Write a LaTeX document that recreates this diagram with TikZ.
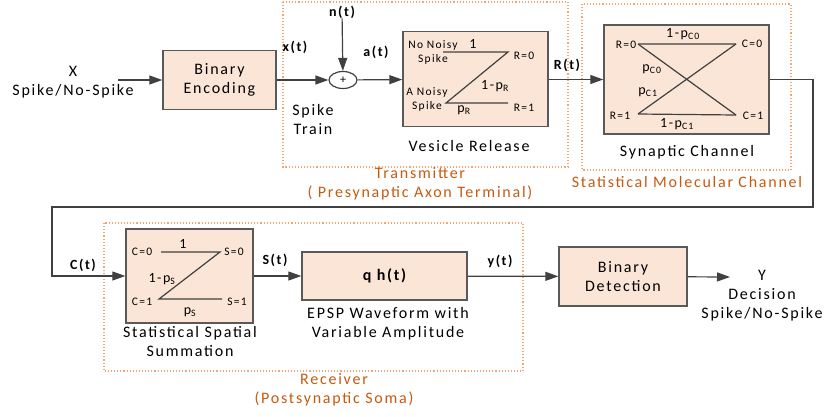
\documentclass[tikz,border=0pt]{standalone}
\usepackage{fontspec}
\setmainfont{Carlito}[LetterSpace=11]
\usetikzlibrary{arrows.meta}
\usetikzlibrary{calc}
\usetikzlibrary{shapes.geometric}
\usetikzlibrary{positioning}
\definecolor{boxfill}{HTML}{FBE5D6}
\definecolor{boxline}{HTML}{595959}
\definecolor{wirecol}{HTML}{404040}
\definecolor{dotline}{HTML}{F4A46E}
\definecolor{grouptext}{HTML}{C55A11}

\begin{document}
\begin{tikzpicture}[x=1pt,y=-1pt,>={Triangle[length=13pt,width=9pt]},font=\fontsize{16}{19}\selectfont]
		\tikzstyle{block}=[rectangle,draw=boxline,fill=boxfill,line width=1.4pt,align=center];
		\tikzstyle{wire}=[draw=wirecol,line width=1.2pt];
		\tikzstyle{group}=[draw=dotline,dotted,line width=1.1pt];
		\tikzstyle{grouplabel}=[text=grouptext,align=center,inner sep=0pt];
		\tikzstyle{sig}=[font=\fontsize{14}{16}\selectfont\bfseries,inner sep=0pt];
		\tikzstyle{tiny}=[font=\fontsize{11.5}{14}\selectfont,align=center,inner sep=0pt];
		\tikzstyle{prob}=[font=\fontsize{14}{16}\selectfont,inner sep=0pt];
		\tikzstyle{plain}=[align=center,inner sep=0pt];
		\useasboundingbox (0,0) rectangle (825,416);

		% dotted groups
		\draw[group](283,2)rectangle(568,167);
		\draw[group](582,4)rectangle(791,170);
		\draw[group](104,223)rectangle(523,371);
		\node[grouplabel](gtx)at(420,184){Transmitter\\( Presynaptic Axon Terminal)};
		\node[grouplabel](gch)at(687,182){Statistical Molecular Channel};
		\node[grouplabel](grx)at(334,390){Receiver\\(Postsynaptic Soma)};

		% blocks
		\node[block,minimum width=113pt,minimum height=59pt](enc)at(219.5,80){Binary\\Encoding};
		\node[draw=wirecol,line width=1.2pt,ellipse,minimum width=28pt,minimum height=17pt,inner sep=0pt,font=\fontsize{12}{12}\selectfont](sum)at(343,80){+};
		\node[block,minimum width=145pt,minimum height=95pt](ves)at(475.5,79){};
		\node[block,minimum width=165pt,minimum height=109pt](syn)at(686.5,79.5){};
		\node[block,minimum width=127pt,minimum height=94pt](sss)at(189.5,276){};
		\node[block,minimum width=165pt,minimum height=48pt,font=\fontsize{16}{19}\selectfont\bfseries](epsp)at(384.5,276){q h(t)};
		\node[block,minimum width=128pt,minimum height=59pt](det)at(623,276.5){Binary\\Detection};

		% texts round the blocks
		\node[plain](xin)at(73,82){X\\Spike/No-Spike};
		\node[plain](train)at(313,119){Spike\\Train};
		\node[plain](vesl)at(469,146){Vesicle Release};
		\node[plain](synl)at(687,152){Synaptic Channel};
		\node[plain](sssl)at(190,341){Statistical Spatial\\Summation};
		\node[plain](epspl)at(388,324){EPSP Waveform with\\Variable Amplitude};
		\node[plain](yout)at(762,296){Y\\Decision\\Spike/No-Spike};

		% signal names
		\node[sig](xt)at(295,47){x(t)};
		\node[sig](nt)at(342,12){n(t)};
		\node[sig](at)at(376,52){a(t)};
		\node[sig](rt)at(567,65){R(t)};
		\node[sig](ct)at(83,265){C(t)};
		\node[sig](st)at(275,260){S(t)};
		\node[sig](yt)at(500,261){y(t)};

		% connectors
		\coordinate(in)at(118,80);
		\coordinate(out)at(730,277);
		\coordinate(k1)at(813,207);
		\coordinate(k2)at(52,207);
		\draw[wire,->](in)--(enc);
		\draw[wire,->](enc)--(sum);
		\draw[wire,->](nt)--(sum);
		\draw[wire,->](sum)--(ves);
		\draw[wire,->](ves.east|-syn.west)--(syn.west);
		\draw[wire,->](syn.east)-|(k1)--(k2)|-(sss.west);
		\draw[wire,->](sss)--(epsp);
		\draw[wire,->](epsp)--(det);
		\draw[wire,->](det)--(out);

		% vesicle release transitions
		\draw[wire](443,52)--(508,52)--(446,103)--(508,103);
		\node[tiny](v1)at(433,52){No Noisy\\Spike};
		\node[tiny](v2)at(427,99){A Noisy\\Spike};
		\node[tiny](v3)at(524,56){R=0};
		\node[tiny](v4)at(524,108){R=1};
		\node[prob](v5)at(473,44){1};
		\node[prob](v6)at(495,86){1-p\textsubscript{R}};
		\node[prob](v7)at(464,110){p\textsubscript{R}};

		% synaptic channel transitions
		\draw[wire](638,44)--(736,44)(638,114)--(736,115);
		\draw[wire](638,44)--(736,115)(638,114)--(736,44);
		\node[tiny](s1)at(626,45){R=0};
		\node[tiny](s2)at(752,44){C=0};
		\node[tiny](s3)at(620,116){R=1};
		\node[tiny](s4)at(753,116){C=1};
		\node[prob](s5)at(683,34){1-p\textsubscript{C0}};
		\node[prob](s6)at(677,124){1-p\textsubscript{C1}};
		\node[prob](s7)at(652,69){p\textsubscript{C0}};
		\node[prob](s8)at(648,92){p\textsubscript{C1}};

		% spatial summation transitions
		\draw[wire](161,252)--(220,252)--(159,299)--(222,299);
		\node[tiny](m1)at(142,252){C=0};
		\node[tiny](m2)at(234,252){S=0};
		\node[tiny](m3)at(142,302){C=1};
		\node[tiny](m4)at(237,302){S=1};
		\node[prob](m5)at(183,244){1};
		\node[prob](m6)at(162,279){1-p\textsubscript{S}};
		\node[prob](m7)at(190,312){p\textsubscript{S}};
	\end{tikzpicture}
\end{document}
